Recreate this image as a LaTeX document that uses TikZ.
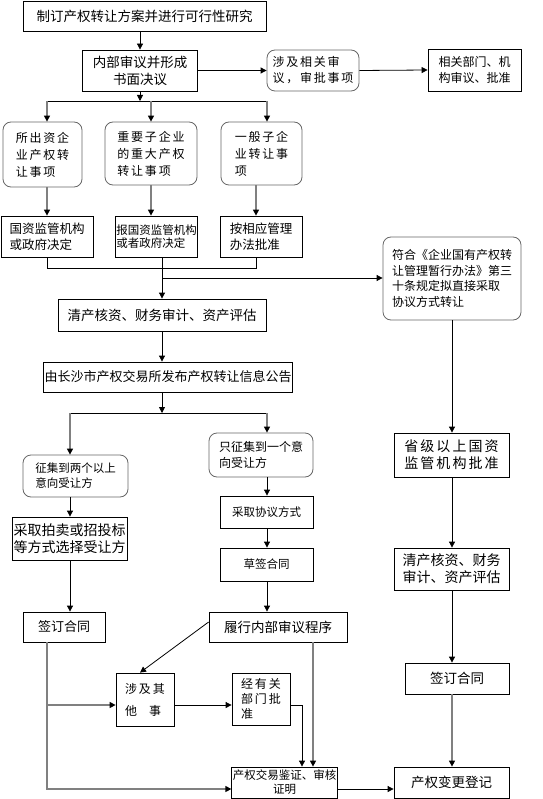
\documentclass[tikz,border=0pt]{standalone}
\usepackage{fontspec}
\setmainfont{Noto Sans CJK SC}
\newfontfamily\widefont{Noto Sans CJK SC}[LetterSpace=15]
\usetikzlibrary{arrows.meta}

\tikzset{
 box/.style={draw, line width=0.8pt, inner sep=1pt, align=center},
 rbox/.style={box, draw=black!60, rounded corners=8pt},
 fs/.style 2 args={font=\fontsize{#1}{#2}\selectfont},
 ws/.style 2 args={font=\widefont\fontsize{#1}{#2}\selectfont},
 arr/.style={-{Triangle[length=6pt,width=6pt,color=black]}, line width=0.8pt},
 garr/.style={arr, draw=black!50, line width=1.3pt},
}

\begin{document}
\begin{tikzpicture}[x=1pt,y=-1pt]
\useasboundingbox (0,0) rectangle (542,799);
% top row
\node[box, fs={13.5}{16}, minimum width=243pt, minimum height=30pt] (study) at (144.5,16) {制订产权转让方案并进行可行性研究};
\node[box, fs={13.5}{17}, minimum width=115pt, minimum height=41pt] (review) at (140,70.5) {内部审议并形成\\书面决议};
\node[rbox, ws={12}{16}, align=left, minimum width=92pt, minimum height=41pt] (involve) at (313,70.5) {涉及相关审\\议，审批事项};
\node[box, fs={12}{16}, align=left, minimum width=93pt, minimum height=42pt] (approve) at (474.5,70) {相关部门、机\\构审议、批准};
% three kinds of transfer
\node[rbox, ws={12}{17}, align=left, minimum width=79pt, minimum height=65pt] (sub1) at (42.5,154.5) {所出资企\\业产权转\\让事项};
\node[rbox, ws={12}{17}, align=left, minimum width=92pt, minimum height=63pt] (sub2) at (151,153.5) {重要子企业\\的重大产权\\转让事项};
\node[rbox, ws={12}{17}, align=left, minimum width=81pt, minimum height=63pt] (sub3) at (261.5,153.5) {一般子企\\业转让事\\项};
\node[box, fs={12.5}{16}, align=left, minimum width=92pt, minimum height=41pt] (dec1) at (47,236.5) {国资监管机构\\或政府决定};
\node[box, fs={11.5}{13}, align=left, minimum width=81pt, minimum height=41pt] (dec2) at (156.5,236.5) {报国资监管机构\\或者政府决定};
\node[box, fs={12.5}{16}, align=left, minimum width=82pt, minimum height=41pt] (dec3) at (261,236.5) {按相应管理\\办法批准};
\node[rbox, fs={12}{15.5}, align=left, minimum width=138pt, minimum height=83pt] (direct) at (452,278.5) {符合《企业国有产权转\\让管理暂行办法》第三\\十条规定拟直接采取\\协议方式转让};
% public listing
\node[box, fs={13.5}{16}, minimum width=208pt, minimum height=32pt] (audit) at (162,315) {清产核资、财务审计、资产评估};
\node[box, fs={13}{16}, minimum width=242pt, minimum height=30pt] (notice) at (168,377) {由长沙市产权交易所发布产权转让信息公告};
\node[rbox, fs={11.5}{15}, align=left, minimum width=105pt, minimum height=42pt] (multi) at (75.5,476) {征集到两个以上\\意向受让方};
\node[rbox, fs={12}{16}, align=left, minimum width=104pt, minimum height=44pt] (single) at (261,455) {只征集到一个意\\向受让方};
\node[box, fs={14}{17}, minimum width=115pt, minimum height=43pt] (auction) at (69.5,538.5) {采取拍卖或招投标\\等方式选择受让方};
\node[box, fs={11.5}{14}, minimum width=93pt, minimum height=32pt] (agree) at (266.5,512) {采取协议方式};
\node[box, fs={11.5}{14}, minimum width=93pt, minimum height=33pt] (draft) at (266.5,564.5) {草签合同};
\node[box, ws={14}{17}, minimum width=115pt, minimum height=44pt] (prov) at (451.5,455) {省级以上国资\\监管机构批准};
\node[box, fs={14}{17}, minimum width=115pt, minimum height=42pt] (audit2) at (451.5,569) {清产核资、财务\\审计、资产评估};
% contracts
\node[box, fs={13}{16}, minimum width=82pt, minimum height=30pt] (sign1) at (64,627) {签订合同};
\node[box, fs={13.5}{16}, minimum width=138pt, minimum height=30pt] (internal) at (278,627) {履行内部审议程序};
\node[box, fs={13.5}{16}, minimum width=104pt, minimum height=31pt] (sign2) at (457,678.5) {签订合同};
\node[box, ws={12}{22}, align=left, minimum width=58pt, minimum height=53pt] (other) at (145,699.5) {涉及其\\他\hspace{12pt}事};
\node[box, ws={12}{15}, align=left, minimum width=58pt, minimum height=52pt] (dept) at (261,699) {经有关\\部门批\\准};
\node[box, fs={11.5}{14}, minimum width=105pt, minimum height=31pt] (cert) at (284.5,782.5) {产权交易鉴证、审核\\证明};
\node[box, fs={13.5}{16}, minimum width=115pt, minimum height=31pt] (reg) at (451.5,782.5) {产权变更登记};
% junctions
\coordinate (j1) at (140,101); \coordinate (j1l) at (47,101);
\coordinate (j1m) at (151,101); \coordinate (j1r) at (267,101);
\coordinate (j2r) at (256,268); \coordinate (j3) at (162,278);
\coordinate (j4) at (162,413); \coordinate (j4l) at (70,413); \coordinate (j4r) at (267,413);
\coordinate (j5) at (47,705); \coordinate (j6) at (47,789);
\coordinate (j7) at (302,705); \coordinate (j8) at (313,642);
% connectors
\draw[arr] (review.north |- study.south) -- (review.north);
\draw[arr] (review.east) -- (involve.west);
\draw[arr] (involve.east) -- (approve.west);
\draw[arr] (review.south) -- (j1);
\draw[line width=0.8pt] (j1l) -- (j1r);
\foreach \c/\n in {j1l/sub1,j1m/sub2,j1r/sub3}
 {\draw[garr] (\c) -- (\c |- \n.north);}
\foreach \c/\s/\d in {j1l/sub1/dec1,j1m/sub2/dec2,j2r/sub3/dec3}
 {\draw[garr] (\s.south -| \c) -- (\d.north -| \c);}
\draw[line width=0.8pt] (dec1.south -| j1l) |- (j2r) -- (dec3.south -| j2r);
\draw[arr] (audit.north |- dec2.south) -- (audit.north);
\draw[arr] (j3) -- (j3 -| direct.west);
\draw[arr] (audit.south) -- (audit.south |- notice.north);
\draw[arr] (notice.south -| j4) -- (j4);
\draw[line width=0.8pt] (j4l) -- (j4r);
\draw[garr] (j4l) -- (j4l |- multi.north);
\draw[garr] (j4r) -- (j4r |- single.north);
\draw[arr] (multi.south -| j4l) -- (auction.north -| j4l);
\draw[arr] (auction.south -| j4l) -- (sign1.north -| j4l);
\draw[arr] (single.south -| j4r) -- (agree.north -| j4r);
\draw[arr] (agree.south -| j4r) -- (draft.north -| j4r);
\draw[arr] (draft.south -| j4r) -- (internal.north -| j4r);
\draw[arr] (direct.south) -- (direct.south |- prov.north);
\draw[arr] (prov.south -| direct) -- (audit2.north -| direct);
\draw[arr] (audit2.south -| direct) -- (sign2.north -| direct);
\draw[garr] (sign2.south -| direct) -- (reg.north -| direct);
\draw[arr] ([yshift=5pt]internal.west) -- ([xshift=-5pt]other.north);
\draw[garr] (sign1.south -| j5) -- (j6) -- (j6 -| cert.west);
\draw[garr] (j5) -- (j5 -| other.west);
\draw[arr] (j5 -| other.east) -- (j5 -| dept.west);
\draw[arr] (j5 -| dept.east) -| (j7 |- cert.north);
\draw[garr] (internal.south -| j8) -- (cert.north -| j8);
\draw[arr] (j6 -| cert.east) -- (j6 -| reg.west);
\end{tikzpicture}
\end{document}
